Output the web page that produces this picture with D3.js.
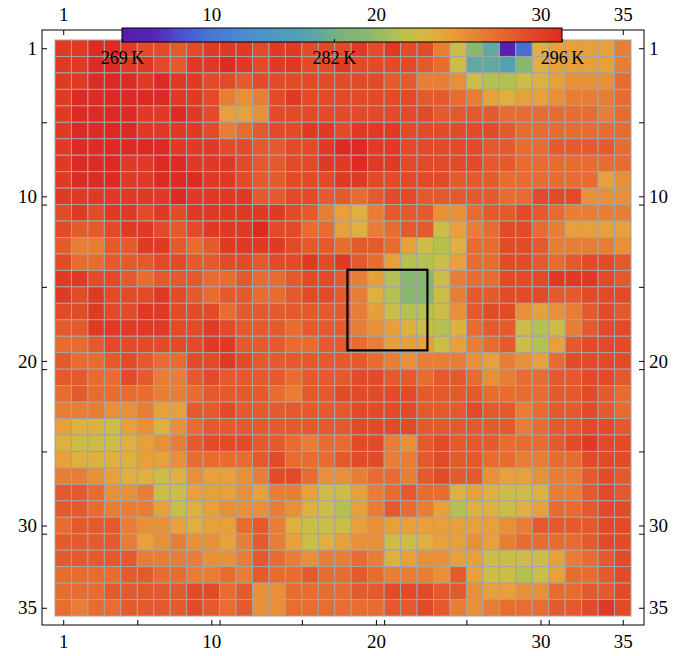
<!DOCTYPE html>
<meta charset="utf-8">
<style>
body { margin: 0; background: #fff; }
text { font-family: "Liberation Serif", "DejaVu Serif", serif; fill: #000; }
</style>
<svg width="681" height="656"></svg>
<script src="https://cdn.jsdelivr.net/npm/d3@7/dist/d3.min.js"></script>
<script>

var svg = d3.select("svg");

// row / column numbers of the 35 x 35 grid
var rowIds = d3.range(1, 36);
var colIds = d3.range(1, 36);

// temperature per cell, K (row 1 at the top)
var r01 = [295,295,296,296,295,294,294,293,294,295,295,295,294,295,295,294,294,294,295,294,295,294,294,291,287,284,281,270,274,288,289,289,289,289,291];
var r02 = [295,295,296,296,295,295,294,293,295,295,296,295,294,295,295,294,294,295,294,294,294,294,293,292,287,281,281,280,284,288,289,289,289,289,291];
var r03 = [295,295,296,296,296,295,296,295,295,294,294,293,294,294,294,294,294,294,294,294,293,293,291,291,290,287,286,286,287,288,289,290,290,290,292];
var r04 = [295,296,296,296,296,296,296,295,295,294,291,290,291,294,295,294,294,294,294,294,294,294,293,293,292,291,289,288,289,289,290,291,291,291,292];
var r05 = [295,296,296,296,296,295,295,296,295,294,289,289,290,294,294,294,294,294,294,294,294,294,294,293,293,293,293,292,292,292,292,292,292,291,292];
var r06 = [295,296,296,296,296,295,295,295,295,294,291,292,293,294,294,295,295,294,295,295,295,294,294,294,294,294,294,293,292,292,292,292,292,292,292];
var r07 = [295,296,296,296,296,296,296,295,295,295,294,294,293,293,294,294,295,296,296,295,295,294,294,294,294,294,293,293,292,292,293,293,293,293,292];
var r08 = [295,296,296,296,295,295,296,296,295,295,295,294,293,293,294,294,295,295,296,295,295,294,294,294,294,294,293,293,292,292,292,292,292,292,292];
var r09 = [295,296,296,296,295,295,296,296,296,295,295,294,293,293,294,294,294,295,295,294,294,294,294,294,293,293,293,292,292,292,292,292,292,289,290];
var r10 = [295,295,295,295,295,295,295,296,295,295,295,295,293,293,294,294,293,293,292,293,294,294,293,293,293,293,293,292,292,294,294,294,290,290,290];
var r11 = [294,295,294,295,295,294,295,294,295,295,295,295,295,295,294,293,291,289,288,291,293,293,293,290,290,292,293,293,294,293,292,291,291,291,291];
var r12 = [294,293,293,294,295,295,294,293,294,295,295,295,296,294,294,292,292,289,288,291,292,293,293,287,289,291,292,294,294,292,291,289,289,289,289];
var r13 = [293,291,291,293,293,295,295,293,292,293,295,295,295,295,294,293,293,292,293,293,292,289,287,286,288,292,292,294,294,293,291,291,291,291,290];
var r14 = [294,292,292,293,293,293,294,294,293,293,294,294,293,294,294,295,294,295,293,292,289,286,286,287,289,292,292,294,294,293,292,293,294,294,293];
var r15 = [295,295,294,294,293,292,293,293,293,292,292,293,292,292,293,294,294,293,291,289,286,284,284,287,291,292,292,294,294,294,295,295,295,294,293];
var r16 = [295,294,295,294,294,294,295,294,293,292,293,293,292,292,293,294,294,293,291,288,286,284,284,287,291,293,293,294,294,294,293,293,294,294,294];
var r17 = [294,294,295,294,294,295,295,294,294,294,292,293,293,293,293,293,293,293,291,289,287,286,286,287,290,293,294,294,290,289,290,291,293,294,293];
var r18 = [293,293,295,295,295,295,295,294,294,295,294,293,293,293,292,293,293,293,291,290,289,288,287,286,288,292,293,293,287,286,287,291,293,294,294];
var r19 = [292,292,293,294,294,294,294,294,294,295,295,293,293,293,292,292,293,293,292,291,289,289,289,287,289,291,292,293,287,286,289,293,294,294,294];
var r20 = [293,292,292,293,294,293,292,292,294,294,295,294,293,293,293,293,293,293,293,292,291,290,291,291,291,290,289,291,290,289,292,294,294,294,294];
var r21 = [293,293,292,292,294,293,291,291,293,294,293,293,293,293,292,293,293,293,294,294,293,293,292,293,293,292,290,291,292,292,293,293,294,294,293];
var r22 = [292,293,292,292,292,292,291,291,292,293,293,293,293,292,291,293,293,294,294,294,294,294,293,293,293,293,292,292,292,292,293,293,294,293,292];
var r23 = [291,291,291,290,290,291,289,289,293,293,294,293,293,293,293,293,293,293,294,294,294,294,293,293,293,294,293,293,291,292,293,293,294,293,292];
var r24 = [289,288,288,287,289,290,288,290,292,293,293,293,293,293,293,293,293,293,294,294,294,294,293,293,293,293,293,293,291,292,293,293,294,294,293];
var r25 = [288,287,287,287,288,289,290,291,293,294,294,294,293,293,292,291,292,292,294,294,291,290,293,294,293,293,293,292,292,292,293,294,295,294,294];
var r26 = [289,288,288,288,288,289,289,290,292,292,292,292,293,294,292,292,292,293,294,294,291,291,293,294,293,293,292,292,291,291,292,292,294,294,294];
var r27 = [291,291,290,289,288,288,287,288,290,289,289,290,291,294,294,292,290,290,291,292,292,291,293,294,293,293,290,289,289,290,291,291,293,294,293];
var r28 = [293,293,292,290,290,291,287,287,289,289,289,290,289,291,291,289,287,287,289,291,292,293,292,292,288,289,288,287,287,288,291,291,293,294,293];
var r29 = [293,293,292,291,291,291,289,287,288,289,290,290,290,291,290,288,287,286,289,291,293,292,291,289,286,288,288,287,288,289,292,292,293,294,294];
var r30 = [292,293,293,293,291,290,290,289,288,289,289,292,293,291,288,287,287,287,289,290,289,289,289,289,289,289,289,290,291,293,293,293,293,294,294];
var r31 = [293,293,293,293,291,289,290,291,290,290,289,291,293,291,289,287,288,289,290,290,287,287,288,289,289,290,289,291,292,292,292,292,293,294,294];
var r32 = [293,293,293,293,293,291,291,291,291,290,290,291,293,292,291,290,291,291,292,291,288,289,290,290,289,289,287,287,287,287,289,291,292,293,294];
var r33 = [292,292,292,292,293,293,292,292,291,291,292,291,293,292,292,293,292,292,293,292,291,291,291,290,293,289,287,287,286,287,289,292,292,293,294];
var r34 = [292,292,292,293,293,293,293,293,294,294,292,293,290,290,292,292,292,292,293,293,294,294,294,293,293,290,289,289,290,290,292,292,293,293,294];
var r35 = [292,291,292,292,293,293,293,293,294,293,292,293,290,290,292,292,292,292,292,292,293,293,294,293,291,290,291,292,292,292,293,293,294,295,294];

var grid = [r01,r02,r03,r04,r05,r06,r07,r08,r09,r10,r11,r12,r13,r14,r15,r16,r17,r18,
            r19,r20,r21,r22,r23,r24,r25,r26,r27,r28,r29,r30,r31,r32,r33,r34,r35];

// colour bar range and labels
var barTemps = [269, 282, 296];
var barLabels = ["269\u2009K", "282\u2009K", "296\u2009K"];

// frame ticks
var tickLabels = [1, 10, 20, 30, 35];
var edgeTicks = [5, 10, 15, 20, 25, 30];

// highlighted block, in cell-edge units
var boxCols = [17.77, 22.63];
var boxRows = [13.96, 18.86];

// colour function (rainbow-like)
var colorTemps = [269, 271, 273, 274.5, 277, 280, 281, 282.5, 284, 286, 287, 288, 289, 290, 291, 292, 293, 294, 295, 296];
var colorHex = ["#5a1aa8","#5428b6","#4a5ad6","#4878d2","#4c90cc","#52a2b4","#60a8a0","#7cb478","#88b870",
                "#b4c050","#ccbc48","#deb040","#e8a03a","#e89038","#e87e36","#e86c30","#e55a2c","#e24a28","#e03a25","#dd2a22"];

var color = d3.scaleLinear().domain(colorTemps).range(colorHex).clamp(true);

var frame = {left: 42, right: 644, top: 30, bottom: 625};

var x = d3.scaleBand().domain(colIds).range([55, 631]);
var y = d3.scaleBand().domain(rowIds).range([40, 616]);
var xc = d3.scalePoint().domain(colIds).range([55, 631]).padding(0.5);
var yc = d3.scalePoint().domain(rowIds).range([40, 616]).padding(0.5);
var xe = d3.scaleLinear().domain([0, 35]).range([55, 631]);
var ye = d3.scaleLinear().domain([0, 35]).range([40, 616]);

// cells
var cells = [];
grid.forEach(function(row, i) {
    row.forEach(function(v, j) {
        cells.push({r: rowIds[i], c: colIds[j], v: v});
    });
});

svg.append("g").selectAll("rect")
    .data(cells)
    .enter().append("rect")
    .attr("x", function(d) { return x(d.c); })
    .attr("y", function(d) { return y(d.r); })
    .attr("width", x.bandwidth())
    .attr("height", y.bandwidth())
    .attr("fill", function(d) { return color(d.v); })
    .attr("stroke", "#a4a4a4")
    .attr("stroke-width", 1);

// box
svg.append("rect")
    .attr("x", xe(boxCols[0]))
    .attr("y", ye(boxRows[0]))
    .attr("width", xe(boxCols[1]) - xe(boxCols[0]))
    .attr("height", ye(boxRows[1]) - ye(boxRows[0]))
    .attr("fill", "none")
    .attr("stroke", "#000")
    .attr("stroke-width", 2.2);

// frame
svg.append("rect")
    .attr("x", frame.left)
    .attr("y", frame.top)
    .attr("width", frame.right - frame.left)
    .attr("height", frame.bottom - frame.top)
    .attr("fill", "none")
    .attr("stroke", "#000")
    .attr("stroke-width", 1);

function styleAxis(g) {
    g.select(".domain").remove();
    g.selectAll("text").attr("font-size", 19).attr("font-family", '"Liberation Serif", serif');
    g.selectAll("line").attr("stroke", "#000");
}

svg.append("g").attr("transform", "translate(0," + frame.bottom + ")")
    .call(d3.axisBottom(xc).tickValues(tickLabels).tickSizeInner(-5).tickSizeOuter(0).tickPadding(10))
    .call(styleAxis);
svg.append("g").attr("transform", "translate(0," + frame.top + ")")
    .call(d3.axisTop(xc).tickValues(tickLabels).tickSizeInner(-5).tickSizeOuter(0).tickPadding(9))
    .call(styleAxis);
svg.append("g").attr("transform", "translate(" + frame.left + ",0)")
    .call(d3.axisLeft(yc).tickValues(tickLabels).tickSizeInner(-5).tickSizeOuter(0).tickPadding(5))
    .call(styleAxis);
svg.append("g").attr("transform", "translate(" + frame.right + ",0)")
    .call(d3.axisRight(yc).tickValues(tickLabels).tickSizeInner(-5).tickSizeOuter(0).tickPadding(5))
    .call(styleAxis);

// unlabelled ticks on the cell edges
[["b", frame.bottom], ["t", frame.top]].forEach(function(s) {
    var ax = s[0] == "b" ? d3.axisBottom(xe) : d3.axisTop(xe);
    svg.append("g").attr("transform", "translate(0," + s[1] + ")")
        .call(ax.tickValues(edgeTicks).tickFormat("").tickSizeInner(-5).tickSizeOuter(0))
        .call(styleAxis);
});
[["l", frame.left], ["r", frame.right]].forEach(function(s) {
    var ax = s[0] == "l" ? d3.axisLeft(ye) : d3.axisRight(ye);
    svg.append("g").attr("transform", "translate(" + s[1] + ",0)")
        .call(ax.tickValues(edgeTicks).tickFormat("").tickSizeInner(-5).tickSizeOuter(0))
        .call(styleAxis);
});

// colour bar
var bx = d3.scaleLinear().domain([barTemps[0], barTemps[2]]).range([122, 562]);
var grad = svg.append("defs").append("linearGradient").attr("id", "bar");
d3.range(0, 1.0001, 0.02).forEach(function(t) {
    var v = barTemps[0] + t * (barTemps[2] - barTemps[0]);
    grad.append("stop").attr("offset", t).attr("stop-color", color(v));
});
svg.append("rect")
    .attr("x", bx(barTemps[0]))
    .attr("y", 28)
    .attr("width", bx(barTemps[2]) - bx(barTemps[0]))
    .attr("height", 14)
    .attr("fill", "url(#bar)")
    .attr("stroke", "#000")
    .attr("stroke-width", 1);

var barAxis = svg.append("g").attr("transform", "translate(0,42)")
    .call(d3.axisBottom(bx).tickValues(barTemps).tickSizeInner(-3).tickSizeOuter(0).tickPadding(9)
        .tickFormat(function(d, i) { return barLabels[i]; }))
    .call(styleAxis);
barAxis.selectAll("text").attr("font-size", 18);

</script>
